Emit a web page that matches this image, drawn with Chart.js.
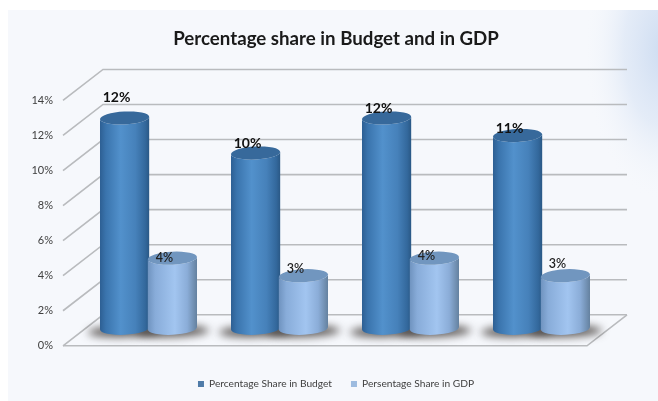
<!DOCTYPE html>
<html>
<head>
<meta charset="utf-8">
<title>Percentage share in Budget and in GDP</title>
<script src="https://cdn.jsdelivr.net/npm/chart.js@4"></script>
<style>
    body{ margin:0; background:#fff; }
    canvas{ display:block; }
</style>
</head>
<body>
<canvas id="shareChart" width="658" height="401"></canvas>
<script>
const years = ["2012", "2013", "2014", "2015"];
const budgetShare = [12, 10, 12, 11];
const gdpShare = [4, 3, 4, 3];

// how far each value label sits above its cylinder top
const budgetLabelLift = [21, 10, 10, 7];
const gdpLabelLift = [0, 7, 2, 12];

const fontName = "Lato, Carlito, sans-serif";
const depthX = 40;
const depthY = -31;
const floorY = depthY / 2 - 2;

const budgetLook = {
    stops: [[0, "#2d5f93"], [0.12, "#3a74ad"], [0.42, "#5291cc"], [0.72, "#4681ba"], [0.92, "#33689c"], [1, "#2a5885"]],
    cap: "#37699b"
};
const gdpLook = {
    stops: [[0, "#6f93bf"], [0.15, "#88acd9"], [0.55, "#a2c5f0"], [0.8, "#8badd8"], [1, "#64819f"]],
    cap: "#7196bf"
};

function drawPanel(chart){
    const ctx = chart.ctx;
    ctx.save();
    ctx.fillStyle = "#f6f8fc";
    ctx.fillRect(8, 10, 650, 391);

    // pale blue glow in the upper right corner
    ctx.beginPath();
    ctx.rect(8, 10, 650, 391);
    ctx.clip();
    ctx.translate(664, 50);
    ctx.scale(1, 1.9);
    const glow = ctx.createRadialGradient(0, 0, 0, 0, 0, 80);
    glow.addColorStop(0, "rgba(205,220,241,1)");
    glow.addColorStop(0.5, "rgba(218,229,245,0.65)");
    glow.addColorStop(1, "rgba(246,248,252,0)");
    ctx.fillStyle = glow;
    ctx.fillRect(-100, -60, 200, 200);
    ctx.restore();
}

function drawWalls(chart){
    const ctx = chart.ctx;
    const yScale = chart.scales.y;
    const area = chart.chartArea;

    ctx.save();
    ctx.strokeStyle = "#b9bbbe";
    ctx.lineWidth = 1.6;
    yScale.ticks.forEach(tick =>{
        const py = yScale.getPixelForValue(tick.value);
        ctx.beginPath();
        ctx.moveTo(area.left, py);
        ctx.lineTo(area.left + depthX, py + depthY);
        ctx.lineTo(area.right + depthX, py + depthY);
        ctx.stroke();
    });

    // floor outline
    ctx.beginPath();
    ctx.moveTo(area.left, area.bottom);
    ctx.lineTo(area.right, area.bottom);
    ctx.lineTo(area.right + depthX, area.bottom + depthY);
    ctx.stroke();
    ctx.restore();
}

function drawFloorShadow(ctx, bar){
    const cx = bar.x + depthX / 2;
    const cy = bar.base + floorY + 3;
    ctx.save();
    ctx.filter = "blur(4px)";
    ctx.fillStyle = "rgba(50,44,40,0.8)";
    ctx.beginPath();
    ctx.ellipse(cx, cy, bar.width / 2 + 12, 5.5, -0.03, 0, Math.PI * 2);
    ctx.fill();
    ctx.restore();
}

function drawCylinder(ctx, bar, look){
    const rx = bar.width / 2;
    const ry = 6.5;
    const tilt = -0.05;
    const cx = bar.x + depthX / 2;
    const top = bar.y + floorY;
    const bottom = bar.base + floorY;

    const side = ctx.createLinearGradient(cx - rx, 0, cx + rx, 0);
    look.stops.forEach(s => side.addColorStop(s[0], s[1]));

    ctx.save();
    ctx.fillStyle = side;
    ctx.beginPath();
    ctx.ellipse(cx, bottom, rx, ry, tilt, Math.PI, 0, true);
    ctx.ellipse(cx, top, rx, ry, tilt, 0, Math.PI, false);
    ctx.closePath();
    ctx.fill();

    ctx.fillStyle = look.cap;
    ctx.beginPath();
    ctx.ellipse(cx, top, rx, ry, tilt, 0, Math.PI * 2);
    ctx.fill();
    ctx.restore();
}

const cylinderPlugin = {
    id: "cylinders",
    beforeDraw(chart){
        drawPanel(chart);
    },
    beforeDatasetsDraw(chart){
        drawWalls(chart);
    },
    // the flat bars are replaced by the cylinders below
    beforeDatasetDraw(){
        return false;
    },
    afterDatasetsDraw(chart){
        const ctx = chart.ctx;
        const budgetBars = chart.getDatasetMeta(0).data;
        const gdpBars = chart.getDatasetMeta(1).data;

        budgetBars.concat(gdpBars).forEach(bar => drawFloorShadow(ctx, bar));
        budgetBars.forEach(bar => drawCylinder(ctx, bar, budgetLook));
        gdpBars.forEach(bar => drawCylinder(ctx, bar, gdpLook));

        ctx.save();
        ctx.textAlign = "center";
        ctx.textBaseline = "middle";
        ctx.fillStyle = "#111";
        ctx.font = "bold 14px " + fontName;
        budgetBars.forEach((bar, i) =>{
            ctx.fillText(budgetShare[i] + "%", bar.x + depthX / 2 - 8, bar.y + floorY - budgetLabelLift[i]);
        });
        ctx.fillStyle = "#222";
        ctx.font = "600 12.5px " + fontName;
        gdpBars.forEach((bar, i) =>{
            ctx.fillText(gdpShare[i] + "%", bar.x + depthX / 2 - 8, bar.y + floorY - gdpLabelLift[i]);
        });
        ctx.restore();
    }
};

new Chart("shareChart", {
    type: "bar",
    data: {
        labels: years,
        datasets: [
            {
                label: "Percentage Share in Budget",
                backgroundColor: "#4f7ba8",
                data: budgetShare,
                categoryPercentage: 0.73,
                barPercentage: 1.03
            },
            {
                label: "Persentage Share in GDP",
                backgroundColor: "#9dbbdf",
                data: gdpShare,
                categoryPercentage: 0.73,
                barPercentage: 1.03
            }
        ]
    },
    plugins: [cylinderPlugin],
    options: {
        responsive: false,
        animation: false,
        layout: {
            padding: { left: 14, right: 0, top: 0, bottom: 2 }
        },
        plugins: {
            title: {
                display: true,
                text: "Percentage share in Budget and in GDP",
                color: "#1a1a1a",
                font: { family: fontName, size: 18.7, weight: "bold" },
                padding: { top: 28, bottom: 50 }
            },
            legend: {
                display: true,
                position: "bottom",
                labels: {
                    boxWidth: 6,
                    boxHeight: 6,
                    padding: 19,
                    color: "#404040",
                    font: { family: fontName, size: 10.2 }
                }
            },
            tooltip: { enabled: false }
        },
        scales: {
            x: {
                grid: { display: false },
                border: { display: false },
                ticks: {
                    color: "#404040",
                    padding: 8,
                    font: { family: fontName, size: 11 }
                },
                afterFit(scale){ scale.height = 14; }
            },
            y: {
                min: 0,
                max: 14,
                grid: { display: false, drawTicks: false },
                border: { display: false },
                ticks: {
                    stepSize: 2,
                    color: "#404040",
                    padding: 10,
                    font: { family: fontName, size: 11 },
                    callback: value => value + "%"
                },
                afterFit(scale){ scale.width = 49; }
            },
            // empty axis that keeps room for the depth of the back wall
            depthRoom: {
                type: "linear",
                position: "right",
                grid: { display: false },
                border: { display: false },
                ticks: { display: false },
                afterFit(scale){ scale.width = 71; }
            }
        }
    }
});
</script>
</body>
</html>
